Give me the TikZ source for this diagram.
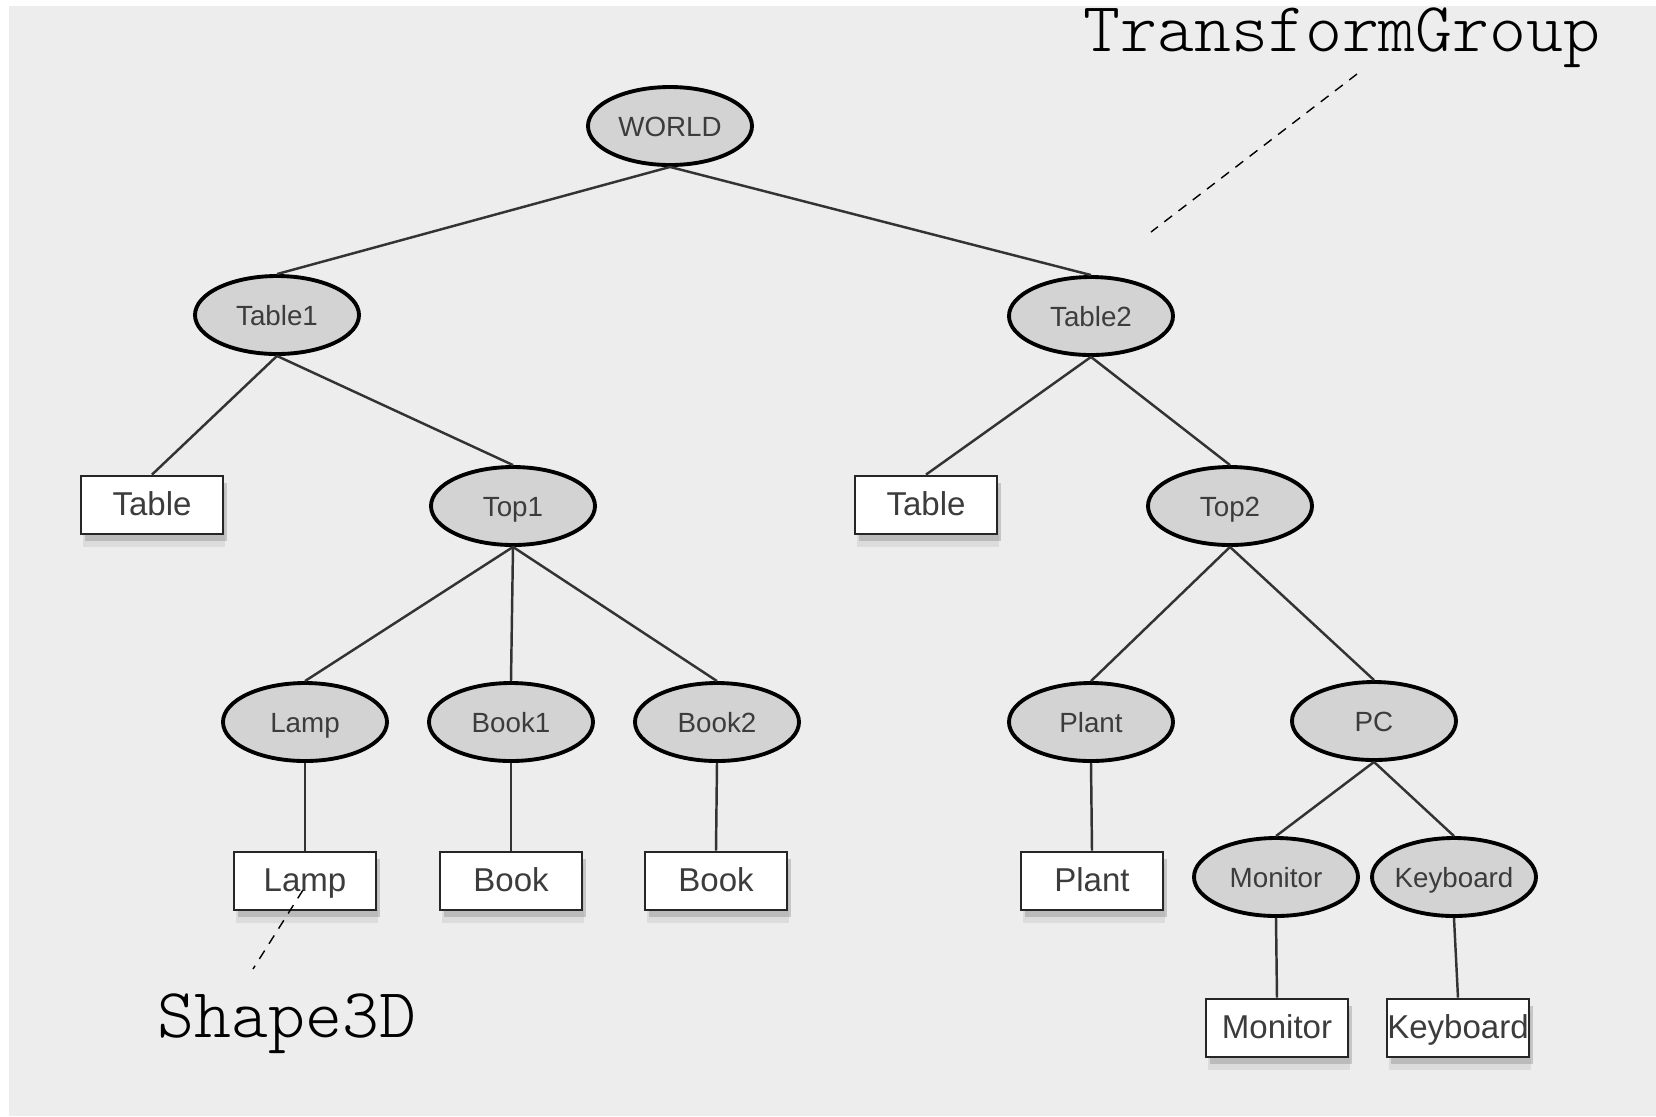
\documentclass[tikz,border=0pt]{standalone}
\usepackage{fontspec}
\setmainfont{Liberation Sans}
\newfontfamily\lightmono{Latin Modern Mono Light}
\usepackage{tikz}
\usetikzlibrary{shapes,shadows}
\definecolor{bggray}{HTML}{EDEDED}
\definecolor{groupfill}{HTML}{D3D3D3}
\definecolor{labelgray}{HTML}{3C3C3C}
\definecolor{edgegray}{HTML}{333333}
\tikzstyle{group} = [ellipse, draw=black, fill=groupfill, line width=1.1pt, minimum width=1.64cm, minimum height=0.78cm, inner xsep=-1mm, inner ysep=0pt, text height=0.74em, text depth=0.16em, text=labelgray, font=\fontsize{7.9}{9}\selectfont]
\tikzstyle{shape3d} = [rectangle, draw=black!85, fill=white, line width=0.8pt, minimum width=1.42cm, minimum height=0.58cm, inner sep=0pt, text height=0.74em, text depth=0.16em, text=labelgray, font=\fontsize{9.4}{11}\selectfont, drop shadow={shadow xshift=0.4mm, shadow yshift=-0.7mm, opacity=0.35}, drop shadow={shadow xshift=0.2mm, shadow yshift=-1.3mm, opacity=0.15}]
\tikzstyle{edge} = [draw=edgegray, line width=0.7pt]
\tikzstyle{noteline} = [draw=black, line width=0.4pt, dash pattern=on 2.8pt off 2.3pt]
\tikzstyle{note} = [inner sep=0pt, anchor=base, font=\lightmono\fontsize{20}{24}\selectfont]

\begin{document}
\begin{tikzpicture}
					\useasboundingbox (0,0) rectangle (16.56,-11.16);
					\fill[bggray] (0.09,-0.06) rectangle (16.56,-11.16);
					\node [group] (world) at (6.70,-1.26) {WORLD};
					\node [group] (table1) at (2.77,-3.15) {Table1};
					\node [group] (table2) at (10.91,-3.16) {Table2};
					\node [shape3d] (table1shape) at (1.52,-5.05) {Table};
					\node [group] (top1) at (5.13,-5.06) {Top1};
					\node [shape3d] (table2shape) at (9.26,-5.05) {Table};
					\node [group] (top2) at (12.30,-5.06) {Top2};
					\node [group] (lamp) at (3.05,-7.22) {Lamp};
					\node [group] (book1) at (5.11,-7.22) {Book1};
					\node [group] (book2) at (7.17,-7.22) {Book2};
					\node [group] (plant) at (10.91,-7.22) {Plant};
					\node [group] (pc) at (13.74,-7.21) {PC};
					\node [shape3d] (lampshape) at (3.05,-8.81) {Lamp};
					\node [shape3d] (book1shape) at (5.11,-8.81) {Book};
					\node [shape3d] (book2shape) at (7.16,-8.81) {Book};
					\node [shape3d] (plantshape) at (10.92,-8.81) {Plant};
					\node [group] (monitor) at (12.76,-8.77) {Monitor};
					\node [group] (keyboard) at (14.54,-8.77) {Keyboard};
					\node [shape3d] (monitorshape) at (12.77,-10.28) {Monitor};
					\node [shape3d] (keyboardshape) at (14.58,-10.28) {Keyboard};
					\foreach \from/\to in {world/table1, world/table2, table1/table1shape, table1/top1, table2/table2shape, table2/top2, top1/lamp, top1/book1, top1/book2, top2/plant, top2/pc, lamp/lampshape, book1/book1shape, book2/book2shape, plant/plantshape, pc/monitor, pc/keyboard, monitor/monitorshape, keyboard/keyboardshape}
						\draw[edge] (\from.south) -- (\to.north);
					\node [note] (groupnote) at (13.42,-0.51) {TransformGroup};
					\node [note] (shapenote) at (2.87,-10.37) {Shape3D};
					\coordinate (grouptip) at (13.57,-0.74);
					\coordinate (groupend) at (11.51,-2.32);
					\coordinate (shapetip) at (3.03,-8.90);
					\coordinate (shapeend) at (2.53,-9.69);
					\draw[noteline] (grouptip) -- (groupend);
					\draw[noteline] (shapetip) -- (shapeend);
\end{tikzpicture}
\end{document}
